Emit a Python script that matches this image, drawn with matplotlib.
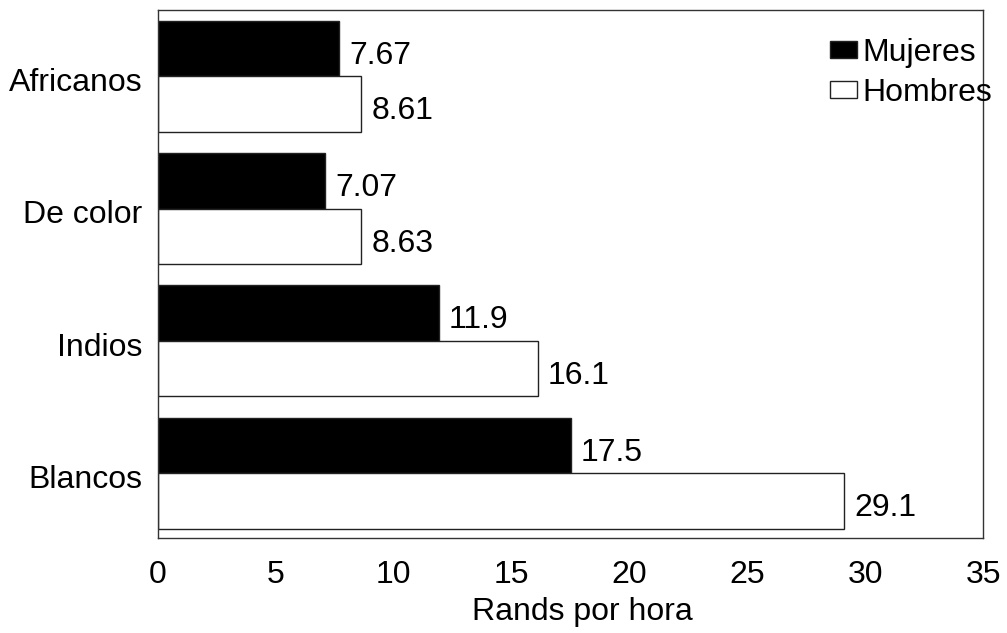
import numpy as np
import matplotlib
matplotlib.use('Agg')
import matplotlib.pyplot as plt

# Datos
grupos = ['Blancos', 'Indios', 'De color', 'Africanos']
mujeres = [17.5, 11.9, 7.07, 7.67]
hombres = [29.1, 16.1, 8.63, 8.61]
etiquetas_m = ['17.5', '11.9', '7.07', '7.67']
etiquetas_h = ['29.1', '16.1', '8.63', '8.61']

plt.rcParams['font.family'] = ['Liberation Sans', 'DejaVu Sans']
fs = 23

fig = plt.figure(figsize=(10.07, 6.33), dpi=100)
ax = fig.add_axes([0.1569, 0.150, 0.8193, 0.834])

y = np.arange(len(grupos))
h = 0.42
ax.barh(y + h / 2, mujeres, height=h, color='black', edgecolor='#222222', linewidth=1, label='Mujeres')
ax.barh(y - h / 2, hombres, height=h, color='white', edgecolor='#222222', linewidth=1, label='Hombres')

# etiquetas de valores
for yi, v, t in zip(y, mujeres, etiquetas_m):
    ax.text(v + 0.45, yi + h / 2 - 0.055, t, va='center', ha='left', fontsize=fs)
for yi, v, t in zip(y, hombres, etiquetas_h):
    ax.text(v + 0.45, yi - h / 2 - 0.055, t, va='center', ha='left', fontsize=fs)

ax.set_xlim(0, 35)
ax.set_ylim(-0.49, 3.5)
ax.set_xticks(range(0, 36, 5))
ax.set_yticks(y - 0.025)
ax.set_yticklabels(grupos)
ax.tick_params(length=0, labelsize=fs)
ax.tick_params(axis='x', pad=16)
ax.tick_params(axis='y', pad=11)
ax.set_xlabel('Rands por hora', fontsize=fs)
ax.xaxis.set_label_coords(0.514, -0.112)
for s in ax.spines.values():
    s.set_color('#333333')
    s.set_linewidth(1)

leg = ax.legend(loc='upper left', bbox_to_anchor=(830 / 1007, 1 - 38 / 633),
                bbox_transform=fig.transFigure, frameon=False, fontsize=fs,
                handlelength=0.85, handleheight=0.45, handletextpad=0.15,
                labelspacing=0.3, borderpad=0, borderaxespad=0)

fig.savefig('out.png', dpi=100, facecolor='white')
